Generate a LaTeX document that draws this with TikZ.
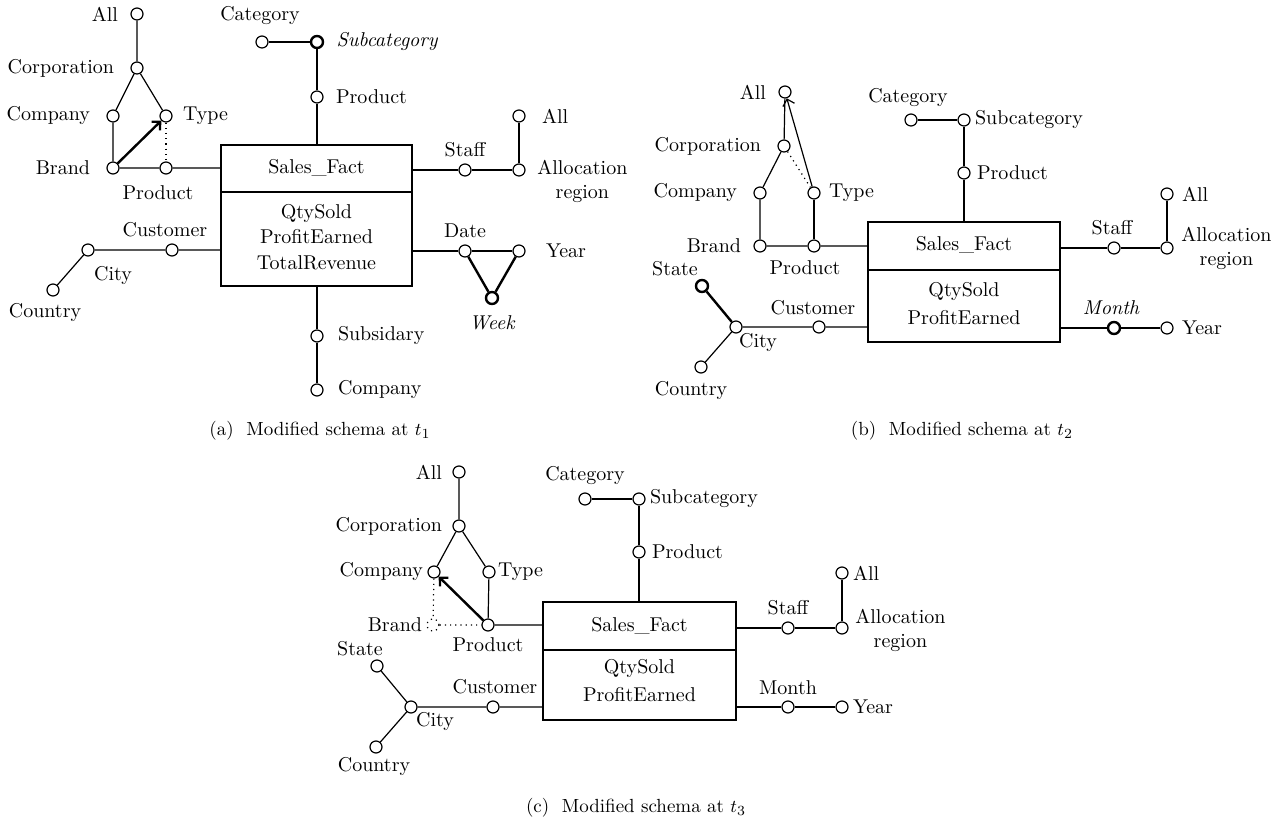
\documentclass[tikz,border=0pt]{standalone}
\usepackage{amsmath}
\usepackage{tikz}
\usetikzlibrary{arrows.meta}
\usetikzlibrary{positioning}

\begin{document}
\begin{tikzpicture}[x=0.5pt,y=-0.5pt,
  lvl/.style={circle,draw,fill=white,line width=0.6pt,inner sep=0pt,minimum size=6pt},
  lvlb/.style={lvl,line width=1.2pt},
  lvld/.style={lvl,dotted},
  fact/.style={rectangle,draw,line width=0.6pt,inner sep=0pt},
  lab/.style={inner sep=0pt},
  ilab/.style={lab,font=\itshape},
  capt/.style={inner sep=0pt,font=\fontsize{9.5}{11}\selectfont},
  conn/.style={line width=0.6pt},
  connb/.style={line width=1.2pt},
  connd/.style={line width=0.6pt,dotted},
  isa/.style={-{Straight Barb[length=3pt,width=6pt]}}]
\useasboundingbox (0,0) rectangle (1280,822);

% (a) schema at t1
\node[fact,minimum width=95.5pt,minimum height=70.5pt] (fact1) at (316.5,215.5) {};
\coordinate (div1) at (0,192);
\draw[conn] (fact1.west |- div1) -- (fact1.east |- div1);
\node[lab] (name1) at (316.5,168) {Sales\_Fact};
\node[lab,align=center] (meas1) at (316.5,237) {QtySold\\[0.75pt]ProfitEarned\\[0.75pt]TotalRevenue};

\node[lvl] (all1) at (137,14) {};
\node[lvl] (corp1) at (137,68) {};
\node[lvl] (comp1) at (113,116) {};
\node[lvl] (type1) at (166,116) {};
\node[lvl] (brand1) at (113,168) {};
\node[lvl] (prod1) at (166,168) {};
\node[lab,left=6pt of all1] (tall1) {All};
\node[lab,left=8pt of corp1] (tcorp1) {Corporation};
\node[lab,left=8pt of comp1] (tcomp1) {Company};
\node[lab,right=5pt of type1] (ttype1) {Type};
\node[lab,left=8pt of brand1] (tbrand1) {Brand};
\node[lab] (tprod1) at (158,193) {Product};
\draw[conn] (all1) -- (corp1) -- (comp1) -- (brand1) -- (prod1) -- (prod1 -| fact1.west);
\draw[conn] (corp1) -- (type1);
\draw[connd] (type1) -- (prod1);
\draw[connb,isa] (brand1) -- (type1);

\node[lvl] (uprod1) at (317,97) {};
\node[lvlb] (subc1) at (317,42) {};
\node[lvl] (cat1) at (262,42) {};
\node[lab] (tcat1) at (260,16) {Category};
\node[ilab,right=6pt of subc1] (tsubc1) {Subcategory};
\node[lab,right=6pt of uprod1] (tuprod1) {Product};
\draw[conn] (uprod1 |- fact1.north) -- (uprod1);
\draw[connb] (uprod1) -- (subc1) -- (cat1);

\node[lvl] (staff1) at (465,170) {};
\node[lvl] (alloc1) at (519,170) {};
\node[lvl] (sall1) at (519,116) {};
\node[lab] (tstaff1) at (465,150) {Staff};
\node[lab,right=8pt of sall1] (tsall1) {All};
\node[lab,align=center,anchor=west] (talloc1) at (537,181) {Allocation\\region};
\draw[conn] (staff1 -| fact1.east) -- (staff1) -- (alloc1) -- (sall1);

\node[lvl] (date1) at (465,251) {};
\node[lvl] (year1) at (519,251) {};
\node[lvlb] (week1) at (492,298) {};
\node[lab] (tdate1) at (465,231) {Date};
\node[lab,right=10pt of year1] (tyear1) {Year};
\node[ilab] (tweek1) at (492,323) {Week};
\draw[conn] (date1 -| fact1.east) -- (date1) -- (year1);
\draw[connb] (date1) -- (week1) -- (year1);

\node[lvl] (subs1) at (317,336) {};
\node[lvl] (scomp1) at (317,390) {};
\node[lab,right=7pt of subs1] (tsubs1) {Subsidary};
\node[lab,right=7pt of scomp1] (tscomp1) {Company};
\draw[conn] (subs1 |- fact1.south) -- (subs1) -- (scomp1);

\node[lvl] (cust1) at (172,250) {};
\node[lvl] (city1) at (88,250) {};
\node[lvl] (ctry1) at (53,290) {};
\node[lab] (tcust1) at (165,230) {Customer};
\node[lab] (tcity1) at (113,276) {City};
\node[lab] (tctry1) at (45,313) {Country};
\draw[conn] (cust1 -| fact1.west) -- (cust1) -- (city1) -- (ctry1);

\node[capt] (cap1) at (320,431) {(a)\ \ Modified schema at $t_1$};

% (b) schema at t2
\node[fact,minimum width=96pt,minimum height=60pt] (fact2) at (964,282) {};
\coordinate (div2) at (0,270);
\draw[conn] (fact2.west |- div2) -- (fact2.east |- div2);
\node[lab] (name2) at (964,245) {Sales\_Fact};
\node[lab,align=center] (meas2) at (964,304) {QtySold\\[2pt]ProfitEarned};

\node[lvl] (all2) at (785,92) {};
\node[lvl] (corp2) at (784,146) {};
\node[lvl] (comp2) at (760,193) {};
\node[lvl] (type2) at (814,193) {};
\node[lvl] (brand2) at (760,246) {};
\node[lvl] (prod2) at (814,246) {};
\node[lab,left=6pt of all2] (tall2) {All};
\node[lab,left=8pt of corp2] (tcorp2) {Corporation};
\node[lab,left=8pt of comp2] (tcomp2) {Company};
\node[lab,right=4pt of type2] (ttype2) {Type};
\node[lab,left=6pt of brand2] (tbrand2) {Brand};
\node[lab] (tprod2) at (805,268) {Product};
\draw[conn] (all2) -- (corp2) -- (comp2) -- (brand2) -- (prod2) -- (prod2 -| fact2.west);
\draw[conn] (type2) -- (prod2);
\draw[connd] (corp2) -- (type2);
\draw[conn,isa] (type2) -- (all2);

\node[lvl] (uprod2) at (964,173) {};
\node[lvl] (subc2) at (964,120) {};
\node[lvl] (cat2) at (911,120) {};
\node[lab] (tcat2) at (908,98) {Category};
\node[lab,right=2pt of subc2] (tsubc2) {Subcategory};
\node[lab,right=3pt of uprod2] (tuprod2) {Product};
\draw[conn] (uprod2 |- fact2.north) -- (uprod2) -- (subc2) -- (cat2);

\node[lvl] (staff2) at (1114,248) {};
\node[lvl] (alloc2) at (1167,248) {};
\node[lvl] (sall2) at (1167,194) {};
\node[lab] (tstaff2) at (1112,228) {Staff};
\node[lab,right=4pt of sall2] (tsall2) {All};
\node[lab,align=center,anchor=west] (talloc2) at (1181,248) {Allocation\\region};
\draw[conn] (staff2 -| fact2.east) -- (staff2) -- (alloc2) -- (sall2);

\node[lvlb] (month2) at (1114,328) {};
\node[lvl] (year2) at (1167,328) {};
\node[ilab] (tmonth2) at (1111,308) {Month};
\node[lab,right=4pt of year2] (tyear2) {Year};
\draw[connb] (month2 -| fact2.east) -- (month2) -- (year2);

\node[lvl] (cust2) at (819,327) {};
\node[lvl] (city2) at (736,327) {};
\node[lvlb] (state2) at (702,286) {};
\node[lvl] (ctry2) at (701,367) {};
\node[lab] (tcust2) at (813,308) {Customer};
\node[lab] (tcity2) at (758,343) {City};
\node[lab] (tstate2) at (675,269) {State};
\node[lab] (tctry2) at (691,391) {Country};
\draw[conn] (cust2 -| fact2.west) -- (cust2) -- (city2) -- (ctry2);
\draw[connb] (city2) -- (state2);

\node[capt] (cap2) at (962,431) {(b)\ \ Modified schema at $t_2$};

% (c) schema at t3
\node[fact,minimum width=96.5pt,minimum height=59pt] (fact3) at (639.5,661) {};
\coordinate (div3) at (0,650);
\draw[conn] (fact3.west |- div3) -- (fact3.east |- div3);
\node[lab] (name3) at (639.5,626) {Sales\_Fact};
\node[lab,align=center] (meas3) at (639.5,681) {QtySold\\[2pt]ProfitEarned};

\node[lvl] (all3) at (459,472) {};
\node[lvl] (corp3) at (459,526) {};
\node[lvl] (comp3) at (434,572) {};
\node[lvl] (type3) at (489,572) {};
\node[lvld] (brand3) at (433,625) {};
\node[lvl] (prod3) at (488,625) {};
\node[lab,left=5pt of all3] (tall3) {All};
\node[lab,left=5pt of corp3] (tcorp3) {Corporation};
\node[lab,left=2pt of comp3] (tcomp3) {Company};
\node[lab,right=1pt of type3] (ttype3) {Type};
\node[lab,left=2pt of brand3] (tbrand3) {Brand};
\node[lab] (tprod3) at (488,645) {Product};
\draw[conn] (all3) -- (corp3) -- (comp3);
\draw[conn] (corp3) -- (type3) -- (prod3) -- (prod3 -| fact3.west);
\draw[connd] (comp3) -- (brand3) -- (prod3);
\draw[connb,isa] (prod3) -- (comp3);

\node[lvl] (uprod3) at (639,552) {};
\node[lvl] (subc3) at (639,499) {};
\node[lvl] (cat3) at (585,499) {};
\node[lab] (tcat3) at (585,476) {Category};
\node[lab,right=2pt of subc3] (tsubc3) {Subcategory};
\node[lab,right=3pt of uprod3] (tuprod3) {Product};
\draw[conn] (uprod3 |- fact3.north) -- (uprod3) -- (subc3) -- (cat3);

\node[lvl] (staff3) at (788,628) {};
\node[lvl] (alloc3) at (842,628) {};
\node[lvl] (sall3) at (842,573) {};
\node[lab] (tstaff3) at (788,608) {Staff};
\node[lab,right=2pt of sall3] (tsall3) {All};
\node[lab,align=center,anchor=west] (talloc3) at (855,630) {Allocation\\region};
\draw[conn] (staff3 -| fact3.east) -- (staff3) -- (alloc3) -- (sall3);

\node[lvl] (month3) at (788,707) {};
\node[lvl] (year3) at (842,707) {};
\node[lab] (tmonth3) at (788,688) {Month};
\node[lab,right=2pt of year3] (tyear3) {Year};
\draw[conn] (month3 -| fact3.east) -- (month3) -- (year3);

\node[lvl] (cust3) at (493,707) {};
\node[lvl] (city3) at (411,707) {};
\node[lvl] (state3) at (377,666) {};
\node[lvl] (ctry3) at (376,747) {};
\node[lab] (tcust3) at (495,687) {Customer};
\node[lab] (tcity3) at (435,722) {City};
\node[lab] (tstate3) at (360,649) {State};
\node[lab] (tctry3) at (374,767) {Country};
\draw[conn] (cust3 -| fact3.west) -- (cust3) -- (city3) -- (ctry3);
\draw[conn] (city3) -- (state3);

\node[capt] (cap3) at (636,808) {(c)\ \ Modified schema at $t_3$};
\end{tikzpicture}
\end{document}
